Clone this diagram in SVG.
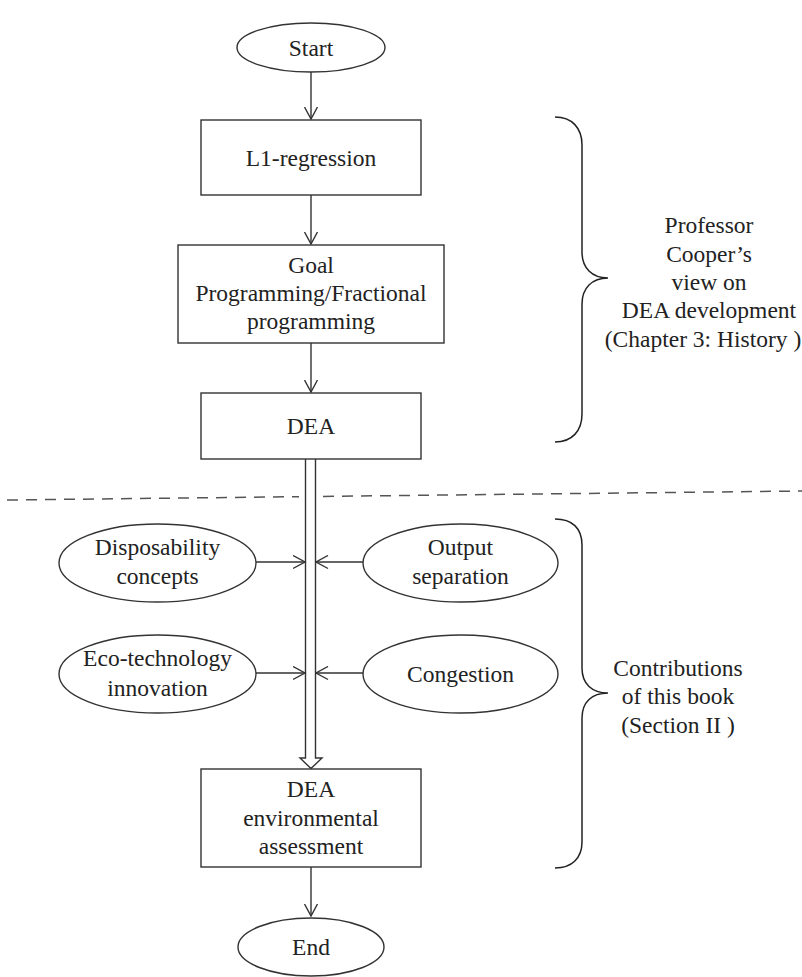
<svg xmlns="http://www.w3.org/2000/svg" width="802" height="977" viewBox="0 0 802 977">
<defs>
<style>
.shape{fill:#fff;stroke:#333;stroke-width:1.4}
.ln{fill:none;stroke:#333;stroke-width:1.4}
.brace{fill:none;stroke:#222;stroke-width:1.5}
.dash{fill:none;stroke:#555;stroke-width:1.5;stroke-dasharray:11 8}
text{font-family:"Liberation Serif","Times New Roman",serif;font-size:23.5px;fill:#222;text-anchor:middle}
</style>
<marker id="arr" markerUnits="userSpaceOnUse" markerWidth="14" markerHeight="15" viewBox="0 0 14 15" refX="12.5" refY="7.5" orient="auto">
<path d="M0.5,1 L12.5,7.5 L0.5,14" fill="none" stroke="#333" stroke-width="1.4"/>
</marker>
</defs>
<rect width="802" height="977" fill="#fff"/>

<g id="connectors">
<line class="ln" x1="311" y1="72" x2="311" y2="119" marker-end="url(#arr)"/>
<line class="ln" x1="311" y1="195" x2="311" y2="244" marker-end="url(#arr)"/>
<line class="ln" x1="311" y1="343" x2="311" y2="392" marker-end="url(#arr)"/>
<line class="ln" x1="311" y1="867" x2="311" y2="916" marker-end="url(#arr)"/>
<path class="ln" d="M305.5,459 L305.5,758 L300,758 L311,768.5 L322,758 L315.5,758 L315.5,459"/>
<line class="ln" x1="256" y1="562" x2="305" y2="562" marker-end="url(#arr)"/>
<line class="ln" x1="363" y1="562" x2="316" y2="562" marker-end="url(#arr)"/>
<line class="ln" x1="256" y1="673" x2="305" y2="673" marker-end="url(#arr)"/>
<line class="ln" x1="363" y1="673" x2="316" y2="673" marker-end="url(#arr)"/>
</g>

<g id="separator">
<line class="dash" x1="7" y1="500" x2="299" y2="496.7"/>
<line class="dash" x1="323" y1="496.4" x2="802" y2="491"/>
</g>

<g id="start">
<ellipse class="shape" cx="311" cy="47.5" rx="74" ry="24.5"/>
<text x="311" y="56">Start</text>
</g>
<g id="l1">
<rect class="shape" x="201" y="120" width="220" height="75"/>
<text x="311" y="165.5">L1-regression</text>
</g>
<g id="goal">
<rect class="shape" x="178" y="245" width="266" height="98"/>
<text x="311" y="273">Goal</text>
<text x="311" y="301">Programming/Fractional</text>
<text x="311" y="329">programming</text>
</g>
<g id="dea">
<rect class="shape" x="201" y="393" width="220" height="66"/>
<text x="311" y="434">DEA</text>
</g>
<g id="disposability">
<ellipse class="shape" cx="157.5" cy="563" rx="98.5" ry="39"/>
<text x="157.5" y="555">Disposability</text>
<text x="157.5" y="584">concepts</text>
</g>
<g id="output">
<ellipse class="shape" cx="460.5" cy="563" rx="97.5" ry="39"/>
<text x="460.5" y="555">Output</text>
<text x="460.5" y="584">separation</text>
</g>
<g id="eco">
<ellipse class="shape" cx="157.5" cy="674" rx="98.5" ry="39"/>
<text x="157.5" y="666">Eco-technology</text>
<text x="157.5" y="696">innovation</text>
</g>
<g id="congestion">
<ellipse class="shape" cx="460.5" cy="674" rx="97.5" ry="39"/>
<text x="460.5" y="682">Congestion</text>
</g>
<g id="deaenv">
<rect class="shape" x="201" y="769" width="220" height="98"/>
<text x="311" y="797">DEA</text>
<text x="311" y="825.5">environmental</text>
<text x="311" y="854">assessment</text>
</g>
<g id="end">
<ellipse class="shape" cx="311" cy="947" rx="73" ry="29"/>
<text x="311" y="955">End</text>
</g>

<g id="brace-history">
<path class="brace" d="M555,117 C572,117 582,128 582,145 L582,252 C582,268 592,278 608,278 C592,278 582,288 582,304 L582,414 C582,431 572,442 555,442"/>
<text x="709" y="233">Professor</text>
<text x="709" y="262">Cooper’s</text>
<text x="709" y="290">view on</text>
<text x="709" y="318">DEA development</text>
<text x="703" y="347">(Chapter 3: History )</text>
</g>
<g id="brace-contrib">
<path class="brace" d="M555,519 C572,519 582,528 582,545 L582,668 C582,684 592,693 608,693 C592,693 582,702 582,718 L582,842 C582,858 572,868 555,868"/>
<text x="678" y="676">Contributions</text>
<text x="678" y="704">of this book</text>
<text x="678" y="733">(Section II )</text>
</g>
</svg>
